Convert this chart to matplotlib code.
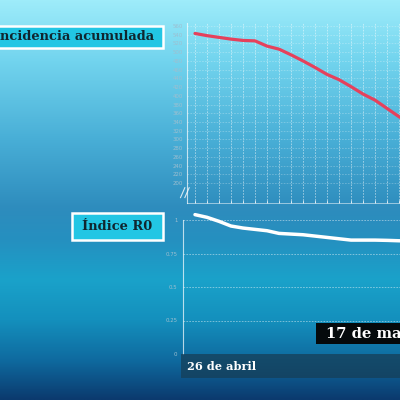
import numpy as np
import matplotlib
matplotlib.use('Agg')
import matplotlib.pyplot as plt
from matplotlib.colors import LinearSegmentedColormap
from matplotlib.patches import Rectangle

# datos: dias desde el 26 de abril
dias = list(range(19))
incidencia = [543, 538, 534, 530, 527, 526, 514, 507, 494, 480, 465,
              449, 437, 421, 404, 390, 371, 352, 335]
r0 = [1.04, 1.02, 0.99, 0.955, 0.94, 0.93, 0.92, 0.90, 0.895, 0.89,
      0.88, 0.87, 0.86, 0.85, 0.85, 0.85, 0.848, 0.845, 0.843]
ticks_inc = list(range(200, 561, 20))
ticks_r0 = [0, 0.25, 0.5, 0.75, 1]
labels_r0 = ['0', '0.25', '0.5', '0.75', '1']

W = H = 400.0


def fig_rect(x0, y0, x1, y1):
    # pixeles (desde arriba) -> fraccion de figura
    return [x0 / W, 1 - y1 / H, (x1 - x0) / W, (y1 - y0) / H]


fig = plt.figure(figsize=(4, 4), dpi=100)

# fondo degradado
bg = fig.add_axes([0, 0, 1, 1], zorder=-10)
cmap = LinearSegmentedColormap.from_list('fondo', [
    (0.0, '#9eecfa'), (0.15, '#72d4ee'), (0.35, '#48aed6'), (0.52, '#2e8cbd'),
    (0.6, '#2590c0'), (0.7, '#1aa2ca'), (0.8, '#1490bd'), (0.9, '#0f6ba0'),
    (1.0, '#0b3a6e')])
grad = np.linspace(0, 1, 256).reshape(-1, 1)
bg.imshow(grad, aspect='auto', cmap=cmap, extent=[0, 1, 0, 1], origin='upper')
bg.set_xlim(0, 1)
bg.set_ylim(0, 1)
bg.axis('off')

grid_kw = dict(color='white', linestyle=(0, (2, 1.5)), linewidth=0.6)
tick_color = '#9dbfd0'

# ---- Incidencia acumulada ----
ax1 = fig.add_axes(fig_rect(187, 23, 547, 203))
ax1.patch.set_alpha(0)
ax1.plot(dias, incidencia, color='#e5415c', linewidth=2.3, solid_capstyle='round', zorder=3)
ax1.set_xlim(-0.667, 29.33)
ax1.set_ylim(154, 567)
ax1.set_yticks(ticks_inc)
ax1.set_xticks(np.arange(0, 30))
ax1.set_xticklabels([])
ax1.tick_params(axis='y', labelsize=3.9, colors=tick_color, length=0, pad=3)
ax1.tick_params(axis='x', length=2, color='white', width=0.5, direction='in')
ax1.grid(True, axis='x', alpha=0.55, **grid_kw)
ax1.grid(True, axis='y', alpha=0.28, **grid_kw)
for s in ['top', 'right']:
    ax1.spines[s].set_visible(False)
ax1.spines['left'].set_color('white')
ax1.spines['left'].set_alpha(0.7)
ax1.spines['left'].set_linewidth(0.8)
ax1.spines['bottom'].set_color('white')
ax1.spines['bottom'].set_alpha(0.6)
ax1.spines['bottom'].set_linewidth(0.6)
# marca de eje cortado
for dx in (-0.012, 0.0):
    ax1.plot([dx - 0.006, dx + 0.006], [0.03, 0.085], transform=ax1.transAxes,
             color='white', lw=0.8, alpha=0.8, clip_on=False)

# ---- Indice R0 ----
ax2 = fig.add_axes(fig_rect(183, 220, 543, 354))
ax2.patch.set_alpha(0)
ax2.plot(dias, r0, color='white', linewidth=2.5, solid_capstyle='round', zorder=3,
         clip_on=False)
ax2.set_xlim(-1.0, 29.0)
ax2.set_ylim(0, 1.0)
ax2.set_yticks(ticks_r0)
ax2.set_yticklabels(labels_r0)
ax2.set_xticks([])
ax2.tick_params(axis='y', labelsize=3.9, colors=tick_color, length=0, pad=4)
ax2.grid(True, axis='y', alpha=0.5, **grid_kw)
for s in ['top', 'right', 'bottom']:
    ax2.spines[s].set_visible(False)
ax2.spines['left'].set_color('white')
ax2.spines['left'].set_alpha(0.7)
ax2.spines['left'].set_linewidth(0.8)

# ---- rotulos ----
def caja(x0, y0, x1, y1, texto, x_txt, ha):
    r = fig_rect(x0, y0, x1, y1)
    fig.patches.append(Rectangle((r[0], r[1]), r[2], r[3], transform=fig.transFigure,
                                 facecolor='#22c6e4', edgecolor='white', linewidth=1.8,
                                 zorder=5))
    fig.text(x_txt / W, 1 - ((y0 + y1) / 2) / H, texto, ha=ha, va='center',
             family='DejaVu Serif', weight='bold', fontsize=9.4, color='#10262f', zorder=6)


caja(-10, 26, 163, 48, 'ncidencia acumulada', 154, 'right')
caja(72, 213, 163, 240, 'Índice R0', 117.5, 'center')

# banda inferior con fecha inicial
r = fig_rect(181, 354, 410, 378)
fig.patches.append(Rectangle((r[0], r[1]), r[2], r[3], transform=fig.transFigure,
                             facecolor='#163f58', alpha=0.75, edgecolor='none', zorder=5))
fig.text(187 / W, 1 - 366 / H, '26 de abril', ha='left', va='center',
         family='DejaVu Serif', weight='bold', fontsize=8.2, color='white', zorder=6)

# fecha final
r = fig_rect(316, 323, 410, 344)
fig.patches.append(Rectangle((r[0], r[1]), r[2], r[3], transform=fig.transFigure,
                             facecolor='#050a0c', edgecolor='none', zorder=5))
fig.text(326 / W, 1 - 334 / H, '17 de ma', ha='left', va='center',
         family='DejaVu Serif', weight='bold', fontsize=10.6, color='white', zorder=6)

fig.savefig('out.png', dpi=100)
